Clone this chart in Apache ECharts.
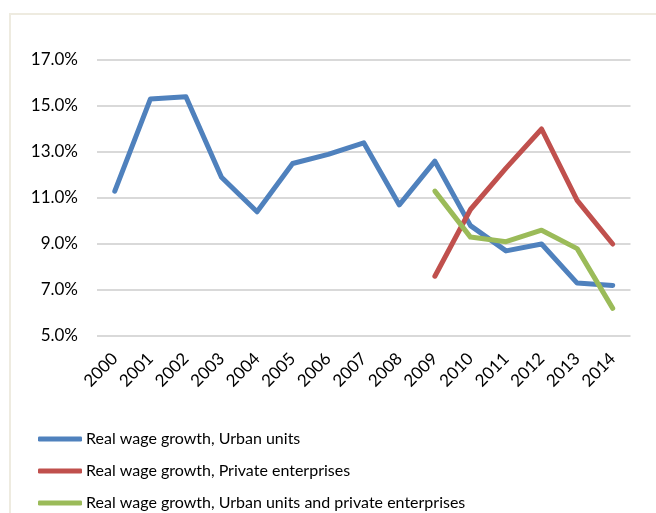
<!DOCTYPE html>
<html>
<head>
<meta charset="utf-8">
<script src="https://cdn.jsdelivr.net/npm/echarts@6/dist/echarts.min.js"></script>
<style>
  html, body { margin: 0; padding: 0; background: #fff; }
  #chart { width: 656px; height: 513px; }
</style>
</head>
<body>
<div id="chart"></div>
<script>
// Years on the category axis
const years = ['2000', '2001', '2002', '2003', '2004', '2005', '2006', '2007',
  '2008', '2009', '2010', '2011', '2012', '2013', '2014'];

// Real wage growth, percent
const urbanUnits = [11.3, 15.3, 15.4, 11.9, 10.4, 12.5, 12.9, 13.4,
  10.7, 12.6, 9.8, 8.7, 9.0, 7.3, 7.2];
const privateEnterprises = [null, null, null, null, null, null, null, null,
  null, 7.6, 10.5, 12.3, 14.0, 10.9, 9.0];
const urbanAndPrivate = [null, null, null, null, null, null, null, null,
  null, 11.3, 9.3, 9.1, 9.6, 8.8, 6.2];

const seriesNames = [
  'Real wage growth, Urban units',
  'Real wage growth, Private enterprises',
  'Real wage growth, Urban units and private enterprises'
];
const colors = ['#4F81BD', '#C0504D', '#9BBB59'];

const font = 'Lato, "Open Sans", sans-serif';
const chart = echarts.init(document.getElementById('chart'), null, { renderer: 'canvas' });

function lineSeries(name, data, color) {
  return {
    name: name,
    type: 'line',
    data: data,
    symbol: 'none',
    smooth: false,
    connectNulls: false,
    lineStyle: { width: 5, color: color, cap: 'round', join: 'round' },
    itemStyle: { color: color },
    emphasis: { disabled: true }
  };
}

chart.setOption({
  animation: false,
  backgroundColor: '#ffffff',
  color: colors,
  textStyle: { fontFamily: font },
  graphic: [{
    type: 'rect',
    shape: { x: 10, y: 14, width: 700, height: 560 },
    style: { fill: 'none', stroke: '#EEEBE0', lineWidth: 2 },
    silent: true,
    z: -10
  }],
  grid: { left: 97, right: 25.5, top: 60, bottom: 177, containLabel: false },
  legend: {
    orient: 'vertical',
    left: 33,
    top: 426,
    height: 200,
    itemWidth: 44,
    itemHeight: 5,
    itemGap: 16,
    icon: 'roundRect',
    textStyle: { color: '#000', fontSize: 16, fontFamily: font, padding: [0, 0, 0, -1] },
    data: seriesNames
  },
  xAxis: {
    type: 'category',
    data: years,
    boundaryGap: true,
    axisLine: { show: false },
    axisTick: { show: false },
    axisLabel: {
      interval: 0,
      rotate: 45,
      margin: 20,
      color: '#000',
      fontSize: 17,
      fontFamily: font
    }
  },
  yAxis: {
    type: 'value',
    min: 5,
    max: 17,
    interval: 2,
    axisLine: { show: false },
    axisTick: { show: false },
    axisLabel: {
      margin: 19,
      color: '#000',
      fontSize: 17,
      fontFamily: font,
      formatter: v => v.toFixed(1) + '%'
    },
    splitLine: { lineStyle: { color: '#D9D9D9', width: 2 } }
  },
  series: [
    lineSeries(seriesNames[0], urbanUnits, colors[0]),
    lineSeries(seriesNames[1], privateEnterprises, colors[1]),
    lineSeries(seriesNames[2], urbanAndPrivate, colors[2])
  ]
});
</script>
</body>
</html>
